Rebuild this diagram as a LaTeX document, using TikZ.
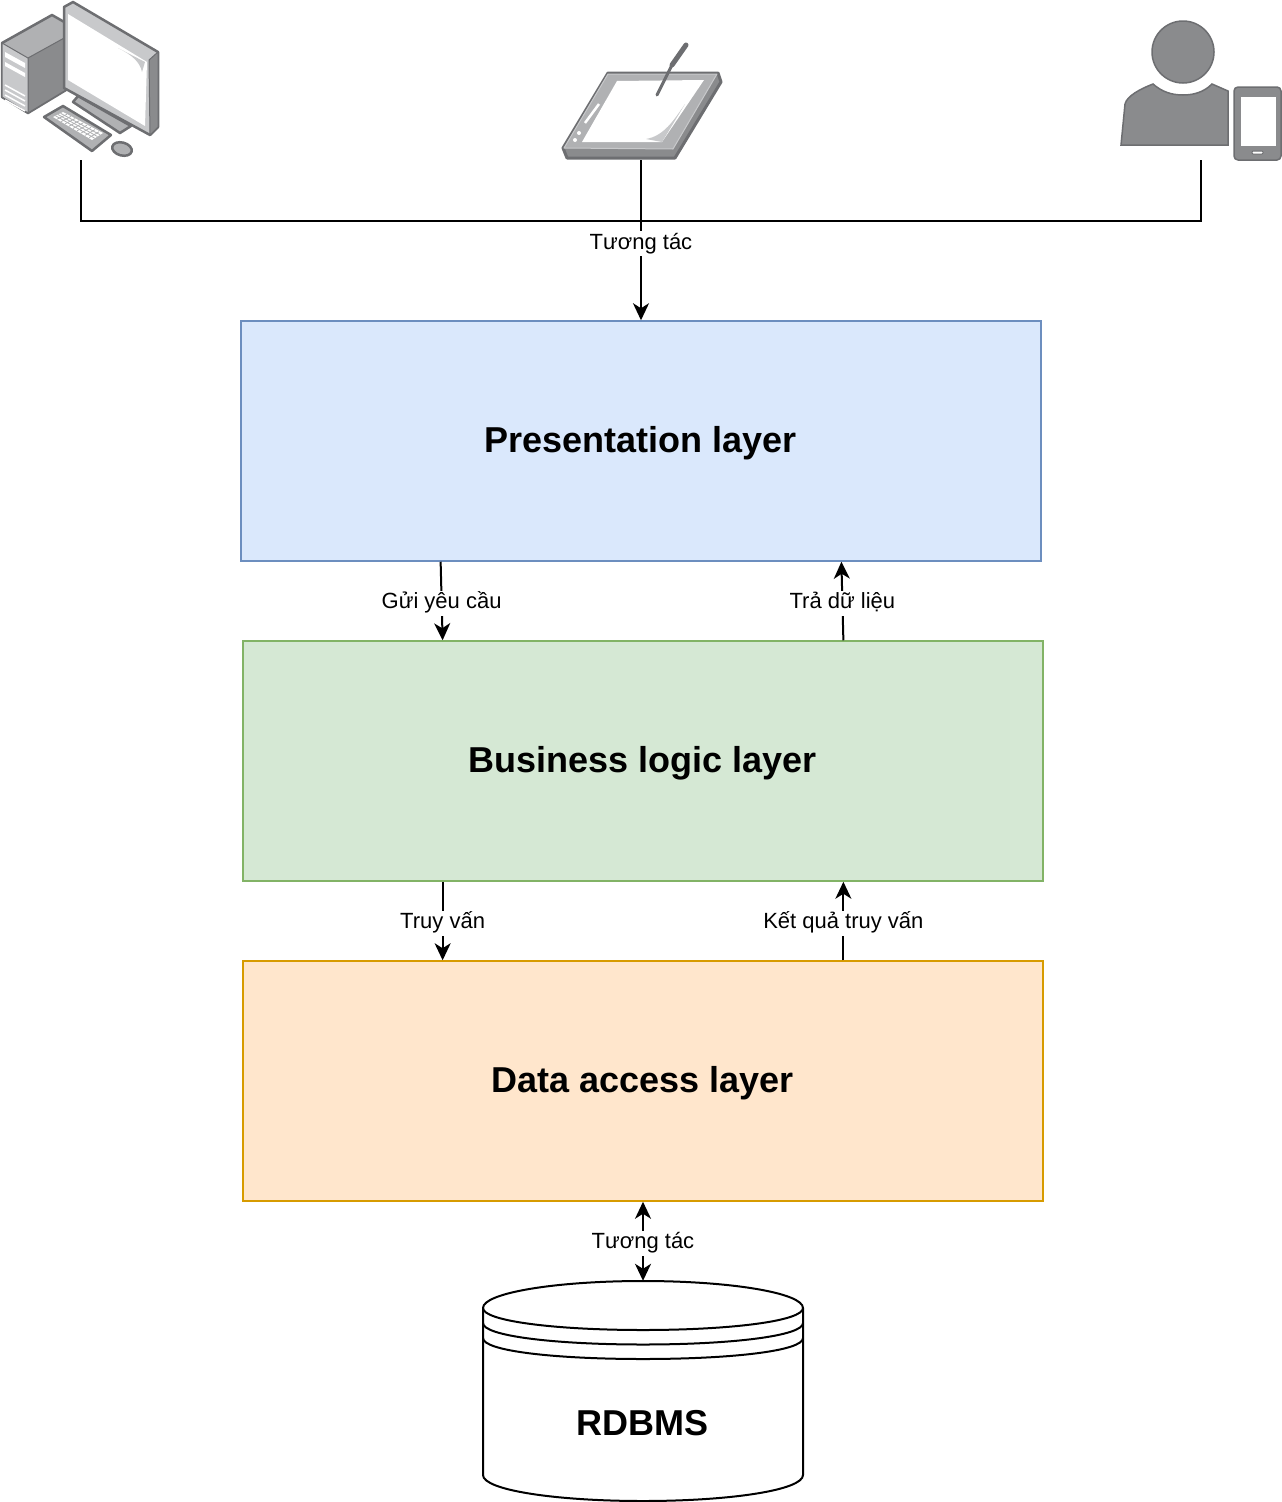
\documentclass[tikz,border=0pt]{standalone}
\usepackage{fontspec}
\setmainfont{Liberation Sans}
\usetikzlibrary{arrows.meta,calc}
\tikzset{
	headtip/.tip={Stealth[length=17pt,width=16pt,inset=5pt]},
	layerbox/.style={draw, line width=1.5pt, minimum width=800pt, minimum height=240pt, inner sep=0pt},
	layertext/.style={font=\fontsize{36}{42}\selectfont\bfseries},
	link/.style={line width=2pt},
	flow/.style={link, -headtip},
	flowlabel/.style={fill=white, inner sep=0pt, text height=18pt, text depth=7pt, yshift=-2pt, font=\fontsize{22}{26}\selectfont}
}
\definecolor{iconline}{HTML}{6D6E71}
\definecolor{icondark}{HTML}{8A8B8D}
\definecolor{iconmid}{HTML}{B0B1B3}
\definecolor{iconlight}{HTML}{C8C9CB}
\definecolor{bluefill}{HTML}{DAE8FC}
\definecolor{blueline}{HTML}{6C8EBF}
\definecolor{greenfill}{HTML}{D5E8D4}
\definecolor{greenline}{HTML}{82B366}
\definecolor{orangefill}{HTML}{FFE6CC}
\definecolor{orangeline}{HTML}{D79B00}
\begin{document}
\begin{tikzpicture}[x=1pt, y=-1pt]
	\useasboundingbox (0, 0) rectangle (1282, 1502);
	%%%%% START %%%%%

	% desktop
	\begin{scope}[draw=iconline, line width=2.5pt, line join=round]
		\draw[fill=iconmid] (2, 43) -- (52, 15) -- (66, 23) -- (66, 90) -- (28, 113) -- (2, 97) -- cycle;
		\draw[fill=icondark, line width=1pt] (28, 58) -- (66, 37) -- (66, 90) -- (28, 113) -- cycle;
		\draw[fill=iconlight, line width=1pt] (2, 43) -- (28, 58) -- (28, 113) -- (2, 97) -- cycle;
		\fill[white] (5, 52) -- (25, 63) -- (25, 68) -- (5, 57) -- cycle;
		\fill[white] (5, 62) -- (25, 73) -- (25, 77) -- (5, 66) -- cycle;
		\foreach \i in {0, 1, 2, 3}
			\draw[white, line width=1.5pt] (5, 85+\i*5) -- (25, 96+\i*5);
		\draw[fill=iconmid] (73, 102) -- (78, 96) -- (131, 126) -- (120, 133) -- cycle;
		\draw[fill=iconlight] (64, 7) -- (73, 2) -- (158, 52) -- (158, 127) -- (150, 135) -- (64, 88) -- cycle;
		\draw[fill=icondark, line width=1pt] (149, 60) -- (158, 52) -- (158, 127) -- (150, 135) -- cycle;
		\fill[white] (68, 14) -- (147, 62) -- (145, 126) -- (68, 80) -- cycle;
		\fill[iconlight] (118, 48) .. controls (132, 55) and (140, 62) .. (142, 72) -- (145, 62) -- cycle;
		\draw[fill=iconmid] (44, 117) -- (63, 106) -- (111, 135) -- (92, 151) -- cycle;
		\fill[white] (53, 117) -- (63, 112) -- (103, 133) -- (92, 140) -- cycle;
		\foreach \i in {1, ..., 9}
			\draw[iconmid, line width=0.8pt] (53+\i*4, 117+\i*2.3) -- (63+\i*4, 112+\i*2.2);
		\foreach \i in {1, 2, 3}
			\draw[iconmid, line width=0.8pt] (53+\i*2.5, 117-\i*1.25) -- (92+\i*2.7, 140-\i*1.75);
		\draw[fill=iconmid, rotate around={-15:(122, 149)}] (122, 149) ellipse (10 and 6.5);
	\end{scope}

	% tablet
	\begin{scope}[draw=iconline, line width=3pt, line join=round]
		\draw[fill=icondark] (563, 148) -- (608, 73) -- (718, 73) -- (721, 82) -- (675, 158) -- (567, 158) -- cycle;
		\draw[fill=iconmid, line width=1pt, draw=iconlight] (564, 148) -- (608, 74) -- (717, 74) -- (673, 149) -- cycle;
		\fill[white] (617, 81) -- (704, 80) -- (662, 142) -- (582, 142) -- cycle;
		\fill[iconlight] (646, 139) .. controls (664, 136) and (674, 120) .. (685, 104) -- (662, 142) -- cycle;
		\draw[white, line width=2.5pt] (585, 123) -- (599, 104);
		\fill[white] (579, 133) circle (2);
		\fill[white] (575, 140) circle (2);
		\draw[line width=3pt, line cap=round] (657, 95) -- (672, 65);
		\draw[line width=5pt, line cap=round] (672, 65) -- (686, 45);
	\end{scope}

	% user with phone
	\begin{scope}[draw=iconline, line width=1.5pt]
		\draw[fill=icondark] (1183, 52) circle (31);
		\draw[fill=icondark] (1121, 145) -- (1125, 104) .. controls (1127, 96) and (1140, 89) .. (1153, 84) .. controls (1162, 92) and (1172, 95) .. (1183, 95) .. controls (1194, 95) and (1204, 92) .. (1212, 84) -- (1228, 91) -- (1228, 145) -- cycle;
		\draw[fill=icondark, rounded corners=4pt] (1234, 87) rectangle (1281, 160);
		\fill[white] (1241, 97) rectangle (1276, 146);
		\draw[fill=white, line width=1pt, rounded corners=1pt] (1252, 151) rectangle (1263, 154);
	\end{scope}

	\coordinate (desktop) at (81, 160);
	\coordinate (tablet) at (641, 160);
	\coordinate (mobile) at (1201, 160);
	\coordinate (junction) at (641, 221);

	\node[layerbox, draw=blueline, fill=bluefill] (presentation) at (641, 441) {};
	\node[layertext] (presentationtext) at (640.5, 443) {Presentation layer};
	\node[layerbox, draw=greenline, fill=greenfill] (business) at (643, 761) {};
	\node[layertext] (businesstext) at (642.5, 763) {Business logic layer};
	\node[layerbox, draw=orangeline, fill=orangefill] (data) at (643, 1081) {};
	\node[layertext] (datatext) at (642.5, 1083) {Data access layer};

	\node[minimum width=320pt, minimum height=220pt, inner sep=0pt] (rdbms) at (643, 1391) {};
	\draw[link] (483, 1308) .. controls (483, 1293) and (555, 1281) .. (643, 1281) .. controls (731, 1281) and (803, 1293) .. (803, 1308) -- (803, 1475) .. controls (803, 1490) and (731, 1501) .. (643, 1501) .. controls (555, 1501) and (483, 1490) .. (483, 1475) -- cycle;
	\foreach \dy in {0, 15, 30}
		\draw[link] (483, 1308+\dy) .. controls (483, 1321+\dy) and (555, 1330+\dy-0.5*\dy/15) .. (643, 1330+\dy-0.5*\dy/15) .. controls (731, 1330+\dy-0.5*\dy/15) and (803, 1321+\dy) .. (803, 1308+\dy);
	\node[layertext] (rdbmstext) at (642.5, 1423) {RDBMS};

	\draw[link] (desktop) |- (junction);
	\draw[link] (mobile) |- (junction);
	\draw[flow] (tablet) -- node[flowlabel, pos=0.51] {Tương tác} (presentation.north);

	\draw[flow] ($(presentation.south west)!0.25!(presentation.south east)$) -- node[flowlabel] {Gửi yêu cầu} ($(business.north west)!0.25!(business.north east)$);
	\draw[flow] ($(business.north west)!0.75!(business.north east)$) -- node[flowlabel] {Trả dữ liệu} ($(presentation.south west)!0.75!(presentation.south east)$);
	\draw[flow] ($(business.south west)!0.25!(business.south east)$) -- node[flowlabel] {Truy vấn} ($(data.north west)!0.25!(data.north east)$);
	\draw[flow] ($(data.north west)!0.75!(data.north east)$) -- node[flowlabel] {Kết quả truy vấn} ($(business.south west)!0.75!(business.south east)$);
	\draw[link, headtip-headtip] (data.south) -- node[flowlabel] {Tương tác} (rdbms.north);

	%%%%% END %%%%%
\end{tikzpicture}
\end{document}
